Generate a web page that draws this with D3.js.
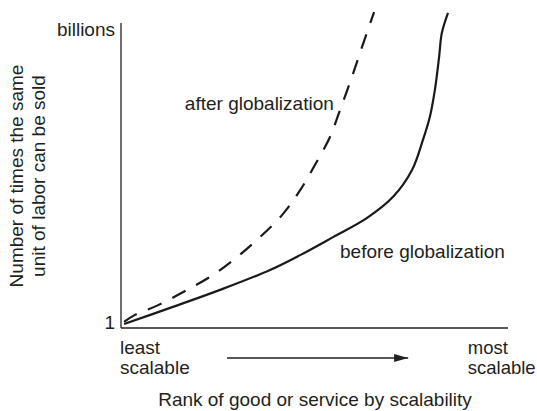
<!DOCTYPE html>
<html>
<head>
<meta charset="utf-8">
<script src="https://cdn.jsdelivr.net/npm/d3@7"></script>
<style>
  body { margin: 0; background: #fff; }
  text { font-family: "Liberation Sans", Arial, sans-serif; fill: #231f20; }
</style>
</head>
<body>
<div id="chart"></div>
<script>
// Curve data (x = scalability rank 0..100, y = relative sales 0..100)
const beforeX = [0.8, 12.7, 25.6, 38.5, 46.3, 54.8, 63.6, 70.3, 75.2, 78.0, 79.8, 81.1, 82.2, 82.9, 84.5];
const beforeY = [1.3, 6.6, 12.5, 19.0, 23.9, 29.8, 36.1, 43.0, 51.8, 61.6, 69.2, 78.0, 88.9, 96.7, 103.3];
const afterX = [0.8, 3.6, 9.6, 17.1, 23.8, 30.0, 35.9, 41.6, 46.3, 50.4, 54.0, 56.6, 59.4, 62.0, 65.4];
const afterY = [2.0, 4.3, 7.5, 12.5, 17.4, 23.3, 29.8, 37.0, 45.2, 54.1, 62.6, 71.5, 81.3, 91.1, 103.6];

const yTickValues = [0, 100];
const yTickLabels = ["1", "billions"];
const xEndLabels = [["least", "scalable"], ["most", "scalable"]];
const yTitle = ["Number of times the same", "unit of labor can be sold"];
const xTitle = "Rank of good or service by scalability";

const width = 537, height = 411;
const margin = { top: 23, right: 29, bottom: 83, left: 121 };
const w = width - margin.left - margin.right;
const h = height - margin.top - margin.bottom;

const svg = d3.select("#chart").append("svg")
    .attr("width", width)
    .attr("height", height);
const g = svg.append("g")
    .attr("transform", `translate(${margin.left},${margin.top})`);

const x = d3.scaleLinear().domain([0, 100]).range([0, w]);
const y = d3.scaleLinear().domain([0, 100]).range([h, 0]);

// Axes (plain lines, no tick marks)
g.append("line")
    .attr("x1", 0).attr("x2", 0).attr("y1", 0).attr("y2", h)
    .attr("stroke", "#231f20").attr("stroke-width", 1.3);
g.append("line")
    .attr("x1", 0).attr("x2", w).attr("y1", h).attr("y2", h)
    .attr("stroke", "#231f20").attr("stroke-width", 1.3);

const yAxis = g.append("g")
    .call(d3.axisLeft(y).tickValues(yTickValues)
        .tickFormat((d, i) => yTickLabels[i]).tickSize(0).tickPadding(6));
yAxis.select(".domain").remove();
yAxis.selectAll("text")
    .style("font-size", "19px")
    .attr("fill", "#231f20")
    .attr("dy", (d, i) => i === 0 ? "0em" : "0.68em");

// Curves
const line = d3.line()
    .x(d => x(d[0]))
    .y(d => y(d[1]))
    .curve(d3.curveCatmullRom.alpha(0.5));

g.append("path")
    .datum(beforeX.map((v, i) => [v, beforeY[i]]))
    .attr("d", line)
    .attr("fill", "none")
    .attr("stroke", "#1a1a1a")
    .attr("stroke-width", 2.2);

g.append("path")
    .datum(afterX.map((v, i) => [v, afterY[i]]))
    .attr("d", line)
    .attr("fill", "none")
    .attr("stroke", "#1a1a1a")
    .attr("stroke-width", 2.2)
    .attr("stroke-dasharray", "15,12");

// Curve labels
g.append("text").attr("x", x(16.5)).attr("y", y(71.5))
    .style("font-size", "19px").text("after globalization");
g.append("text").attr("x", x(56.6)).attr("y", y(23))
    .style("font-size", "19px").text("before globalization");

// End labels under the x axis
xEndLabels.forEach((lines, i) => {
    const lx = i === 0 ? -1 : x(89.6);
    const t = g.append("text")
        .attr("x", lx)
        .attr("y", h + 26)
        .style("font-size", i === 0 ? "19px" : "18.5px");
    lines.forEach((s, j) => {
        t.append("tspan")
            .attr("x", lx)
            .attr("dy", j === 0 ? 0 : 20)
            .text(s);
    });
});

// Arrow
svg.append("defs").append("marker")
    .attr("id", "arrow")
    .attr("viewBox", "0 0 14 8")
    .attr("refX", 14).attr("refY", 4)
    .attr("markerWidth", 14).attr("markerHeight", 8)
    .attr("markerUnits", "userSpaceOnUse")
    .attr("orient", "auto")
    .append("path").attr("d", "M0,0L14,4L0,8Z").attr("fill", "#231f20");
g.append("line")
    .attr("x1", x(27.4)).attr("x2", x(74.2))
    .attr("y1", h + 30).attr("y2", h + 30)
    .attr("stroke", "#231f20").attr("stroke-width", 1.3)
    .attr("marker-end", "url(#arrow)");

// Axis titles
g.append("text")
    .attr("text-anchor", "middle")
    .attr("x", w / 2 + 0.5)
    .attr("y", h + 78)
    .style("font-size", "19px")
    .text(xTitle);

const yt = svg.append("text")
    .attr("text-anchor", "middle")
    .attr("transform", "translate(23,176) rotate(-90)")
    .style("font-size", "19px");
yTitle.forEach((s, j) => {
    yt.append("tspan").attr("x", 0).attr("dy", j === 0 ? 0 : 22).text(s);
});
</script>
</body>
</html>
